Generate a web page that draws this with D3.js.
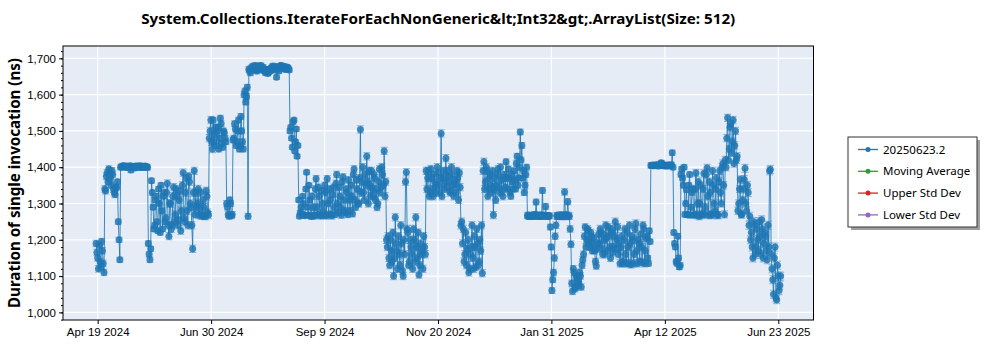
<!DOCTYPE html>
<html>
<head>
<meta charset="utf-8">
<script src="https://cdn.jsdelivr.net/npm/d3@7"></script>
<style>
  html, body { margin: 0; padding: 0; background: #ffffff; }
  svg { display: block; font-family: "Noto Sans", "Open Sans", sans-serif; }
</style>
</head>
<body>
<svg id="chart" width="1000" height="350"></svg>
<script>
// ---- text ----
const chartTitle = "System.Collections.IterateForEachNonGeneric&lt;Int32&gt;.ArrayList(Size: 512)";
const yAxisTitle = "Duration of single invocation (ns)";
const legendNames = ["20250623.2", "Moving Average", "Upper Std Dev", "Lower Std Dev"];
const legendColors = ["#1f77b4", "#2ca02c", "#d62728", "#9467bd"];

// ---- axis ticks ----
const xTickTimes = ["2024-04-19T12:00", "2024-06-30T04:00", "2024-09-09T20:00", "2024-11-20T12:00",
                    "2025-01-31T04:00", "2025-04-12T20:00", "2025-06-23T12:00"];
const xTickLabels = ["Apr 19 2024", "Jun 30 2024", "Sep 9 2024", "Nov 20 2024",
                     "Jan 31 2025", "Apr 12 2025", "Jun 23 2025"];
const yTicks = [1000, 1100, 1200, 1300, 1400, 1500, 1600, 1700];

// ---- mean duration (ns): two runs a day (noon and midnight), one block per month ----
const apr2024 = [1190, 1150, 1185, 1125, 1170, 1110, 1335, 1385, 1395, 1370, 1390, 1340, 1325];
const apr2024b = [1165, 1120, 1140, 1195, 1135, 1340, 1375, 1360, 1390, 1350, 1380, 1330, 1345];
const may2024 = [1345, 1250, 1145, 1402, 1404, 1401, 1403, 1400, 1402, 1392, 1399, 1401, 1403, 1400, 1402, 1404,
                 1401, 1400, 1403, 1401, 1190, 1145, 1363, 1290, 1240, 1320, 1225, 1300, 1350, 1230, 1330];
const may2024b = [1360, 1200, 1400, 1400, 1403, 1402, 1399, 1401, 1404, 1400, 1402, 1398, 1401, 1403, 1400, 1399,
                  1402, 1400, 1401, 1399, 1160, 1175, 1330, 1230, 1310, 1250, 1340, 1220, 1280, 1320, 1250];
const jun2024 = [1260, 1355, 1210, 1300, 1240, 1345, 1270, 1320, 1255, 1335, 1280, 1385, 1250, 1370, 1240, 1360,
                 1290, 1175, 1390, 1330, 1300, 1268, 1330, 1266, 1290, 1265, 1320, 1268, 1500, 1470];
const jun2024b = [1330, 1240, 1300, 1230, 1320, 1250, 1340, 1240, 1310, 1225, 1350, 1260, 1330, 1280, 1375, 1300,
                  1240, 1330, 1270, 1290, 1340, 1290, 1268, 1310, 1266, 1335, 1275, 1480, 1530, 1450];
const jul2024 = [1530, 1490, 1460, 1510, 1480, 1520, 1455, 1495, 1470, 1290, 1265, 1300, 1270, 1480, 1505, 1470,
                 1530, 1460, 1500, 1450, 1610, 1595, 1265, 1665, 1672, 1678, 1670, 1676, 1668, 1674, 1680];
const jul2024b = [1470, 1510, 1500, 1450, 1535, 1465, 1500, 1480, 1300, 1270, 1310, 1266, 1475, 1520, 1460, 1500,
                  1450, 1540, 1470, 1600, 1580, 1620, 1670, 1660, 1675, 1670, 1680, 1665, 1672, 1678, 1669];
const aug2024 = [1671, 1666, 1660, 1668, 1662, 1670, 1675, 1672, 1678, 1648, 1670, 1676, 1680, 1673, 1677, 1670,
                 1675, 1668, 1510, 1455, 1530, 1470, 1430, 1310, 1275, 1270, 1300, 1266, 1386, 1268, 1310];
const aug2024b = [1676, 1670, 1663, 1658, 1671, 1666, 1679, 1668, 1675, 1672, 1665, 1680, 1674, 1678, 1669, 1676,
                  1672, 1500, 1480, 1525, 1445, 1505, 1460, 1265, 1290, 1320, 1268, 1340, 1290, 1350, 1266];
const sep2024 = [1265, 1290, 1267, 1368, 1270, 1320, 1266, 1300, 1268, 1330, 1368, 1270, 1310, 1266, 1345, 1270,
                 1380, 1275, 1320, 1268, 1373, 1280, 1340, 1270, 1310, 1350, 1272, 1395, 1290, 1340];
const sep2024b = [1320, 1266, 1340, 1290, 1345, 1268, 1335, 1280, 1350, 1266, 1300, 1340, 1270, 1325, 1290, 1355,
                  1300, 1345, 1290, 1360, 1310, 1275, 1330, 1365, 1280, 1320, 1380, 1310, 1365, 1300];
const oct2024 = [1300, 1504, 1360, 1330, 1380, 1430, 1300, 1350, 1390, 1320, 1370, 1340, 1300, 1395, 1345, 1380,
                 1445, 1360, 1180, 1150, 1200, 1140, 1100, 1262, 1170, 1210, 1130, 1190, 1100, 1160, 1386];
const oct2024b = [1370, 1330, 1400, 1310, 1350, 1360, 1390, 1320, 1340, 1380, 1310, 1290, 1360, 1330, 1400, 1350,
                  1320, 1200, 1210, 1130, 1170, 1220, 1150, 1190, 1120, 1160, 1240, 1115, 1200, 1360, 1230];
const nov2024 = [1220, 1140, 1180, 1120, 1200, 1262, 1150, 1104, 1190, 1170, 1210, 1160, 1340, 1390, 1330, 1370,
                 1320, 1360, 1350, 1385, 1330, 1493, 1370, 1340, 1425, 1390, 1360, 1335, 1380, 1320];
const nov2024b = [1130, 1200, 1160, 1230, 1140, 1180, 1220, 1130, 1160, 1120, 1180, 1390, 1370, 1320, 1395, 1340,
                  1380, 1330, 1400, 1350, 1370, 1320, 1390, 1360, 1345, 1375, 1330, 1400, 1350, 1365];
const dec2024 = [1355, 1390, 1310, 1345, 1250, 1230, 1160, 1130, 1200, 1120, 1180, 1150, 1210, 1125, 1190, 1140,
                 1170, 1108, 1415, 1360, 1390, 1340, 1380, 1330, 1268, 1370, 1350, 1395, 1330, 1365, 1320];
const dec2024b = [1330, 1370, 1385, 1240, 1190, 1140, 1220, 1175, 1110, 1160, 1240, 1120, 1180, 1230, 1130, 1200,
                  1240, 1390, 1340, 1400, 1320, 1370, 1350, 1390, 1340, 1310, 1380, 1345, 1400, 1335, 1370];
const jan2025 = [1380, 1415, 1340, 1370, 1320, 1360, 1390, 1340, 1430, 1370, 1497, 1460, 1390, 1350, 1400, 1268,
                 1265, 1266, 1264, 1270, 1304, 1266, 1268, 1264, 1336, 1267, 1292, 1265, 1266, 1235, 1060];
const jan2025b = [1345, 1370, 1395, 1330, 1380, 1340, 1365, 1410, 1350, 1400, 1420, 1370, 1330, 1380, 1266, 1264,
                  1267, 1265, 1268, 1266, 1265, 1267, 1264, 1268, 1266, 1265, 1267, 1264, 1266, 1180, 1090];
const feb2025 = [1110, 1210, 1266, 1265, 1268, 1264, 1266, 1332, 1268, 1305, 1265, 1188, 1058, 1110, 1070, 1095,
                 1075, 1100, 1130, 1160, 1235, 1200, 1225, 1180, 1210, 1190, 1170, 1128];
const feb2025b = [1150, 1240, 1265, 1267, 1266, 1265, 1268, 1266, 1264, 1267, 1230, 1080, 1120, 1065, 1100, 1085,
                  1110, 1070, 1145, 1210, 1180, 1230, 1195, 1220, 1170, 1205, 1140, 1175];
const mar2025 = [1190, 1190, 1220, 1160, 1200, 1240, 1170, 1210, 1150, 1230, 1180, 1250, 1200, 1160, 1135, 1210,
                 1140, 1230, 1135, 1180, 1240, 1132, 1200, 1160, 1245, 1135, 1190, 1215, 1138, 1230, 1170];
const mar2025b = [1215, 1230, 1175, 1215, 1160, 1205, 1235, 1180, 1220, 1165, 1210, 1175, 1235, 1190, 1180, 1135,
                  1200, 1160, 1220, 1135, 1190, 1210, 1135, 1230, 1170, 1200, 1140, 1180, 1240, 1135, 1205];
const apr2025 = [1210, 1135, 1195, 1405, 1404, 1406, 1405, 1403, 1407, 1412, 1406, 1404, 1405, 1403, 1406, 1405,
                 1440, 1220, 1180, 1135, 1150, 1130, 1395, 1350, 1270, 1338, 1268, 1380, 1290, 1340];
const apr2025b = [1150, 1225, 1405, 1406, 1404, 1405, 1407, 1404, 1405, 1410, 1405, 1403, 1406, 1404, 1405, 1407,
                  1400, 1190, 1140, 1210, 1125, 1380, 1370, 1400, 1300, 1270, 1350, 1268, 1330, 1268];
const may2025 = [1270, 1384, 1300, 1265, 1350, 1271, 1383, 1290, 1398, 1268, 1330, 1268, 1350, 1280, 1370, 1268,
                 1390, 1300, 1410, 1270, 1400, 1536, 1450, 1520, 1470, 1410, 1500, 1430, 1300, 1366, 1270];
const may2025b = [1340, 1268, 1360, 1300, 1268, 1340, 1270, 1380, 1320, 1360, 1270, 1390, 1300, 1340, 1268, 1360,
                  1330, 1400, 1350, 1420, 1480, 1420, 1510, 1440, 1530, 1460, 1420, 1280, 1340, 1270, 1310];
const jun2025 = [1340, 1397, 1280, 1330, 1265, 1220, 1150, 1240, 1180, 1200, 1250, 1160, 1230, 1190, 1210, 1145,
                 1180, 1394, 1120, 1050, 1180, 1035, 1100, 1075];
const jun2025b = [1366, 1300, 1350, 1240, 1200, 1180, 1250, 1160, 1230, 1170, 1210, 1255, 1150, 1220, 1170, 1240,
                  1390, 1160, 1090, 1150, 1040, 1130, 1060, 1100];

// first day of each block and the typical half-width of its error bars (ns)
const blockStarts = ["2024-04-18", "2024-05-01", "2024-06-01", "2024-07-01", "2024-08-01", "2024-09-01",
                     "2024-10-01", "2024-11-01", "2024-12-01", "2025-01-01", "2025-02-01", "2025-03-01",
                     "2025-04-01", "2025-05-01", "2025-06-01"];
const blockErrors = [9, 7, 10, 8, 6, 9, 10, 10, 10, 8, 9, 10, 7, 10, 11];
const noonRuns = [apr2024, may2024, jun2024, jul2024, aug2024, sep2024, oct2024, nov2024, dec2024,
                  jan2025, feb2025, mar2025, apr2025, may2025, jun2025];
const midnightRuns = [apr2024b, may2024b, jun2024b, jul2024b, aug2024b, sep2024b, oct2024b, nov2024b, dec2024b,
                      jan2025b, feb2025b, mar2025b, apr2025b, may2025b, jun2025b];

// ---- assemble the series in time order ----
const parseDay = d3.utcParse("%Y-%m-%d");
const parseTime = d3.utcParse("%Y-%m-%dT%H:%M");
const series = [];
noonRuns.forEach((vals, i) => {
  const start = parseDay(blockStarts[i]);
  vals.forEach((v, j) => {
    const day = d3.utcDay.offset(start, j);
    series.push({ t: d3.utcHour.offset(day, 12), v: v, e: blockErrors[i] });
    series.push({ t: d3.utcHour.offset(day, 24), v: midnightRuns[i][j], e: blockErrors[i] });
  });
});

// ---- layout ----
const svg = d3.select("#chart");
const plot = { left: 63, top: 46, right: 813.5, bottom: 320 };

const x = d3.scaleUtc()
  .domain([parseTime("2024-03-28T14:00"), parseTime("2025-07-15T18:00")])
  .range([plot.left, plot.right]);
const y = d3.scaleLinear()
  .domain([979, 1734])
  .range([plot.bottom, plot.top]);

// plot background
svg.append("rect")
  .attr("x", plot.left).attr("y", plot.top)
  .attr("width", plot.right - plot.left).attr("height", plot.bottom - plot.top)
  .attr("fill", "#e5ecf6");

// gridlines
const grid = svg.append("g");
grid.selectAll(".gy").data(yTicks).join("line")
  .attr("x1", plot.left).attr("x2", plot.right)
  .attr("y1", d => y(d)).attr("y2", d => y(d))
  .attr("stroke", "#ffffff").attr("stroke-width", 1.2);
const xTickDates = xTickTimes.map(parseTime);
grid.selectAll(".gx").data(xTickDates).join("line")
  .attr("x1", d => x(d)).attr("x2", d => x(d))
  .attr("y1", plot.top).attr("y2", plot.bottom)
  .attr("stroke", "#ffffff").attr("stroke-width", 1.2);

// data
svg.append("clipPath").attr("id", "plotClip").append("rect")
  .attr("x", plot.left).attr("y", plot.top)
  .attr("width", plot.right - plot.left).attr("height", plot.bottom - plot.top);
const dataG = svg.append("g").attr("clip-path", "url(#plotClip)");
const blue = legendColors[0];

dataG.append("path")
  .datum(series)
  .attr("d", d3.line().x(d => x(d.t)).y(d => y(d.v)))
  .attr("fill", "none").attr("stroke", blue).attr("stroke-width", 1).attr("stroke-opacity", 0.85);

const capW = 3.5;
const errG = dataG.append("g").attr("stroke", blue).attr("stroke-opacity", 0.5).attr("stroke-width", 1);
errG.selectAll(".ev").data(series).join("line")
  .attr("x1", d => x(d.t)).attr("x2", d => x(d.t))
  .attr("y1", d => y(d.v - d.e)).attr("y2", d => y(d.v + d.e));
errG.selectAll(".et").data(series).join("line")
  .attr("x1", d => x(d.t) - capW).attr("x2", d => x(d.t) + capW)
  .attr("y1", d => y(d.v + d.e)).attr("y2", d => y(d.v + d.e));
errG.selectAll(".eb").data(series).join("line")
  .attr("x1", d => x(d.t) - capW).attr("x2", d => x(d.t) + capW)
  .attr("y1", d => y(d.v - d.e)).attr("y2", d => y(d.v - d.e));

dataG.selectAll("circle").data(series).join("circle")
  .attr("cx", d => x(d.t)).attr("cy", d => y(d.v)).attr("r", 3.5)
  .attr("fill", blue).attr("fill-opacity", 0.85);

// frame
svg.append("rect")
  .attr("x", plot.left).attr("y", plot.top)
  .attr("width", plot.right - plot.left).attr("height", plot.bottom - plot.top)
  .attr("fill", "none").attr("stroke", "#000000").attr("stroke-width", 1);

// y axis
const yAxisG = svg.append("g").attr("transform", `translate(${plot.left},0)`);
yAxisG.call(d3.axisLeft(y).tickValues(d3.range(980, 1734, 20)).tickSize(2).tickFormat(""))
  .call(g => g.select(".domain").remove());
yAxisG.append("g").call(d3.axisLeft(y).tickValues(yTicks).tickSize(4).tickPadding(3).tickFormat(d3.format(",")))
  .call(g => g.select(".domain").remove())
  .call(g => g.selectAll("text").attr("font-size", 11.5).attr("fill", "#000").style("font-family", "inherit"));
yAxisG.selectAll("line").attr("stroke", "#000");

// x axis
const xAxisG = svg.append("g").attr("transform", `translate(0,${plot.bottom})`);
xAxisG.call(d3.axisBottom(x).tickValues(xTickDates).tickSize(4).tickPadding(4)
    .tickFormat((d, i) => xTickLabels[i]))
  .call(g => g.select(".domain").remove())
  .call(g => g.selectAll("text").attr("font-size", 11.5).attr("fill", "#000").style("font-family", "inherit"));
xAxisG.selectAll("line").attr("stroke", "#000");

// title
svg.append("text")
  .attr("x", (plot.left + plot.right) / 2).attr("y", 24)
  .attr("text-anchor", "middle")
  .attr("font-size", 15).attr("font-weight", "bold")
  .attr("textLength", 594).attr("lengthAdjust", "spacingAndGlyphs")
  .text(chartTitle);

// y axis title
svg.append("text")
  .attr("transform", `translate(20,${(plot.top + plot.bottom) / 2}) rotate(-90)`)
  .attr("text-anchor", "middle")
  .attr("font-size", 16).attr("font-weight", "bold")
  .attr("textLength", 250).attr("lengthAdjust", "spacingAndGlyphs")
  .text(yAxisTitle);

// legend
const lg = svg.append("g").attr("transform", "translate(848,137)");
lg.append("rect").attr("x", 3).attr("y", 3).attr("width", 129).attr("height", 90).attr("fill", "#a0a0a0");
lg.append("rect").attr("x", 0).attr("y", 0).attr("width", 129).attr("height", 90)
  .attr("fill", "#ffffff").attr("stroke", "#333333").attr("stroke-width", 1);
const item = lg.selectAll(".item").data(legendNames).join("g")
  .attr("transform", (d, i) => `translate(0,${12.5 + i * 21.8})`);
item.append("line").attr("x1", 10).attr("x2", 30).attr("y1", 0).attr("y2", 0)
  .attr("stroke", (d, i) => legendColors[i]).attr("stroke-width", 1.3);
item.append("circle").attr("cx", 20).attr("cy", 0).attr("r", 2.5)
  .attr("fill", (d, i) => legendColors[i]);
item.append("text").attr("x", 35).attr("y", 0).attr("dy", "0.35em")
  .attr("font-size", 11.5).attr("fill", "#000").text(d => d);
</script>
</body>
</html>
